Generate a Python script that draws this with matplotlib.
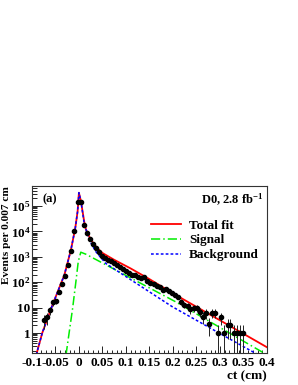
import numpy as np
import matplotlib
matplotlib.use("Agg")
import matplotlib.pyplot as plt
from matplotlib.ticker import LogLocator, MultipleLocator, FuncFormatter, NullFormatter

# ---------------------------------------------------------------------------
# data (events per 0.007 cm bin)
# ---------------------------------------------------------------------------
data_x = [-0.075, -0.068, -0.0614, -0.055, -0.048, -0.0417, -0.0353, -0.029,
          -0.0226, -0.0163, -0.0099, -0.0028, 0.0042, 0.0113, 0.017, 0.0234,
          0.0297, 0.0368, 0.043, 0.0496, 0.056, 0.062, 0.069, 0.075, 0.081,
          0.088, 0.094, 0.1005, 0.107, 0.113, 0.12, 0.126, 0.1326, 0.139,
          0.1458, 0.152, 0.159, 0.165, 0.172, 0.178, 0.185, 0.191, 0.198,
          0.2045, 0.211, 0.218, 0.224, 0.231, 0.237, 0.244, 0.251, 0.257,
          0.264, 0.270, 0.277, 0.283, 0.290, 0.296, 0.303, 0.309, 0.316,
          0.322, 0.329, 0.336, 0.342, 0.349]
data_y = [3.3, 4.2, 8.1, 16, 18, 40, 83, 180,
          475, 1700, 10400, 140000, 140000, 18000, 8700, 5000,
          3200, 2200, 1500, 1120, 910, 760, 660, 560, 460,
          400, 340, 275, 230, 200, 186, 165, 150, 165,
          110, 95, 84, 70, 62, 50, 52, 45, 36,
          31, 27, 17, 13, 12, 8.5, 9.5, 10, 7,
          4.4, 6, 2.3, 6.3, 6.3, 1.0, 4.2, 1.0, 2.0,
          2.0, 1.0, 1.0, 1.0, 1.0]

# fit curves (knots)
total_x = [-0.0906, -0.078, -0.059, -0.045, -0.031, -0.017, -0.0078, -0.0028,
           0.0, 0.0042, 0.0113, 0.0148, 0.0254, 0.0396, 0.05, 0.075, 0.11,
           0.15, 0.2, 0.3, 0.4]
total_y = [0.141, 1.0, 9.3, 42.7, 190, 1860, 13200, 60300,
           331000, 158000, 24000, 12000, 4570, 2140, 1410, 759, 347,
           132, 36.3, 3.16, 0.275]

bkg_x = [-0.0906, -0.078, -0.059, -0.045, -0.031, -0.017, -0.0078, -0.0028,
         0.0, 0.0042, 0.0113, 0.0219, 0.036, 0.057, 0.1, 0.198, 0.3, 0.4]
bkg_y = [0.141, 1.0, 9.3, 42.7, 190, 1860, 13200, 60300,
         331000, 158000, 20000, 4570, 1585, 550, 166, 11.0, 0.955, 0.089]

sig_x = [-0.0275, -0.0205, -0.0134, -0.0064, -0.0014, 0.004, 0.0148, 0.2055,
         0.389, 0.4]
sig_y = [0.135, 1.12, 9.3, 105, 646, 1510, 1260, 17.0, 0.182, 0.138]

bin_half = 0.0033

# ---------------------------------------------------------------------------
plt.rcParams["font.family"] = ["Liberation Serif", "DejaVu Serif"]
plt.rcParams["font.weight"] = "bold"
plt.rcParams["mathtext.fontset"] = "custom"
plt.rcParams["mathtext.rm"] = "Liberation Serif:bold"
plt.rcParams["mathtext.it"] = "Liberation Serif:bold"
plt.rcParams["mathtext.bf"] = "Liberation Serif:bold"
plt.rcParams["axes.unicode_minus"] = False

fig = plt.figure(figsize=(2.98, 3.85), dpi=100)
ax = fig.add_axes([0.107, 0.083, 0.789, 0.434])

ax.plot(total_x, total_y, "-", color="#ff0000", lw=1.3, label="Total fit")
ax.plot(sig_x, sig_y, color="#00ee00", lw=1.1, ls=(0, (6, 2, 1, 2)), label="Signal")
ax.plot(bkg_x, bkg_y, color="#0000ff", lw=1.1, ls=(0, (1.8, 1.4)), label="Background")

dy = np.array(data_y)
err = np.sqrt(dy)
lo = np.minimum(err, dy - 1e-3)
ax.errorbar(data_x, data_y, yerr=[lo, err], xerr=bin_half, fmt="o", ms=3.0,
            color="black", ecolor="#222222", elinewidth=0.7, capsize=0, zorder=5)

ax.set_yscale("log")
ax.set_xlim(-0.1, 0.4)
ax.set_ylim(0.163, 6.1e5)


def yfmt(v, pos):
    e = int(round(np.log10(v)))
    if e == 0:
        return "1"
    if e == 1:
        return "10"
    return "$10^{%d}$" % e


def xfmt(v, pos):
    if abs(v) < 1e-9:
        return "0"
    return f"{v:g}"


ax.yaxis.set_major_locator(LogLocator(base=10, numticks=12))
ax.yaxis.set_minor_locator(LogLocator(base=10, subs=np.arange(2, 10), numticks=12))
ax.yaxis.set_major_formatter(FuncFormatter(yfmt))
ax.yaxis.set_minor_formatter(NullFormatter())
ax.xaxis.set_major_locator(MultipleLocator(0.05))
ax.xaxis.set_minor_locator(MultipleLocator(0.01))
ax.xaxis.set_major_formatter(FuncFormatter(xfmt))

ax.tick_params(axis="both", which="both", direction="in", top=False, right=False,
               width=0.6, labelsize=9.5)
ax.tick_params(axis="y", which="major", length=7, pad=1)
ax.tick_params(axis="y", which="minor", length=3.5)
ax.tick_params(axis="x", which="major", length=5, pad=3)
ax.tick_params(axis="x", which="minor", length=2.5)
for lab in ax.get_xticklabels() + ax.get_yticklabels():
    lab.set_fontweight("bold")
for s in ax.spines.values():
    s.set_linewidth(0.8)
    s.set_color("#333333")

ax.set_ylabel("Events per 0.007 cm", fontsize=8.2, fontweight="bold", loc="top")
ax.yaxis.set_label_coords(-0.087, 1.0)
ax.set_xlabel("ct (cm)", fontsize=9.5, fontweight="bold", loc="right")
ax.xaxis.set_label_coords(1.0, -0.105)

ax.text(0.047, 0.958, "(a)", transform=ax.transAxes, fontsize=9,
        fontweight="bold", ha="left", va="top")
ax.text(0.985, 0.965, "D0, 2.8 fb$^{-1}$", transform=ax.transAxes, fontsize=9,
        fontweight="bold", ha="right", va="top")

leg = ax.legend(loc="upper left", bbox_to_anchor=(0.505, 0.80), frameon=False,
                fontsize=9.5, handlelength=2.3, handletextpad=0.6, labelspacing=0.2,
                borderpad=0, borderaxespad=0)
for t in leg.get_texts():
    t.set_fontweight("bold")

fig.savefig("out.png", dpi=100)
